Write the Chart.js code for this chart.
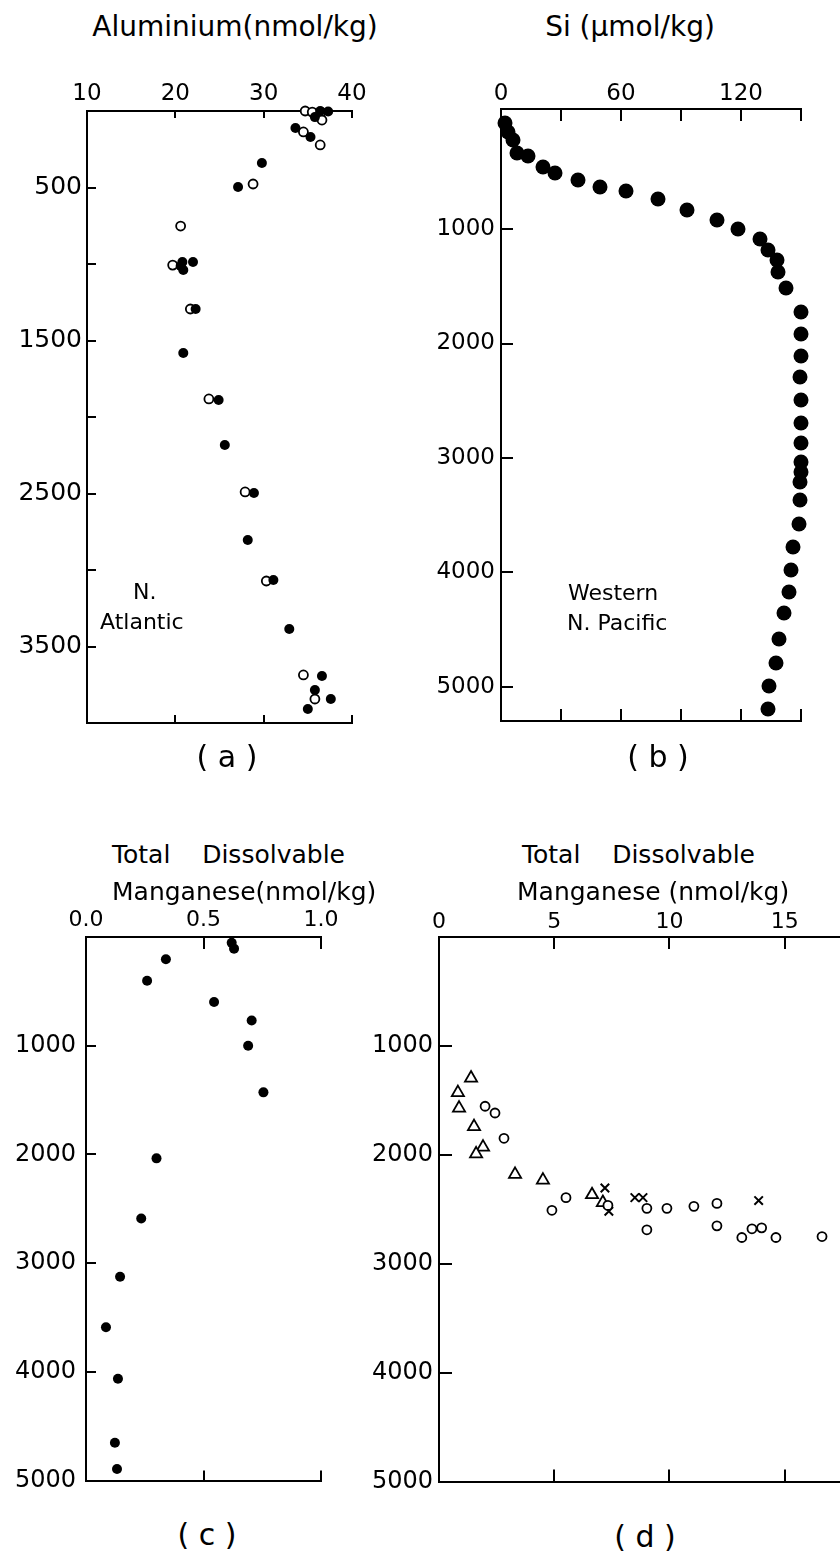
<!DOCTYPE html>
<html>
<head>
<meta charset="utf-8">
<title>Al, Si and Mn depth profiles</title>
<script src="https://cdn.jsdelivr.net/npm/chart.js@4.4.0/dist/chart.umd.min.js"></script>
<style>
  body { margin: 0; background: #fff; }
  #page { position: relative; width: 840px; height: 1552px; overflow: hidden; background: #fff;
          font-family: "DejaVu Sans", sans-serif; color: #000; }
  #page canvas { position: absolute; }
  .lbl { position: absolute; white-space: pre; line-height: 1; }
</style>
</head>
<body>
<div id="page">
  <canvas id="chartA"></canvas>
  <canvas id="chartB"></canvas>
  <canvas id="chartC"></canvas>
  <canvas id="chartD"></canvas>
</div>
<script>
// (a) Aluminium, N. Atlantic  [nmol/kg, depth m]
const alTicks = [10, 20, 30, 40];
const alBottomTicks = [20, 30, 40];
const alDepthTicks = [500, 1000, 1500, 2000, 2500, 3000, 3500];
const alDepthLabels = [500, 1500, 2500, 3500];
const alFilled = [[36.4, 0], [37.3, 3], [35.8, 40], [33.6, 111], [35.3, 170], [29.8, 340], [27.1, 497],
  [20.8, 987], [22.0, 987], [20.6, 1013], [20.9, 1039], [22.3, 1294], [20.9, 1582], [24.9, 1889],
  [25.6, 2183], [28.9, 2497], [28.2, 2804], [31.1, 3065], [32.9, 3386], [36.6, 3693], [35.8, 3784],
  [37.6, 3843], [35.0, 3908]];
const alOpen = [[34.7, 0], [35.5, 7], [36.5, 7], [36.6, 59], [34.5, 137], [36.4, 222], [28.8, 477],
  [20.6, 752], [19.7, 1007], [21.7, 1294], [23.8, 1882], [27.9, 2490], [30.3, 3072], [34.5, 3686],
  [35.8, 3843]];

// (b) Si, Western N. Pacific  [umol/kg, depth m]
const siTicks = [0, 30, 60, 90, 120, 150];
const siLabels = [0, 60, 120];
const siBottomTicks = [30, 60, 90, 120, 150];
const siDepthTicks = [1000, 2000, 3000, 4000, 5000];
const siPoints = [[2, 72], [3.5, 151], [6, 221], [8, 335], [13.5, 361], [21, 457], [27, 509], [38.5, 571],
  [49.5, 632], [62.5, 667], [78.5, 737], [93, 833], [108, 920], [118.5, 999], [129.5, 1086],
  [133.5, 1183], [138, 1270], [138.5, 1375], [142.5, 1515], [150, 1725], [150, 1917], [150, 2109],
  [149.5, 2293], [150, 2494], [150, 2695], [150, 2870], [150, 3036], [150, 3123], [149.5, 3211],
  [149.5, 3368], [149, 3578], [146, 3779], [145, 3980], [144, 4172], [141.5, 4356], [139, 4583],
  [137.5, 4793], [134, 4994], [133.5, 5195]];

// (c) Total dissolvable Mn  [nmol/kg, depth m]
const mnTicks = [0, 0.5, 1.0];
const mnBottomTicks = [0.5, 1.0];
const mnDepthTicks = [1000, 2000, 3000, 4000, 5000];
const mnPoints = [[0.62, 54], [0.63, 107], [0.34, 205], [0.26, 402], [0.545, 598], [0.705, 768],
  [0.69, 1000], [0.755, 1429], [0.30, 2036], [0.235, 2589], [0.145, 3125], [0.085, 3589],
  [0.136, 4063], [0.123, 4652], [0.132, 4893]];

// (d) Total dissolvable Mn, three sets
const mn2Ticks = [0, 5, 10, 15];
const mn2BottomTicks = [5, 10, 15];
const mn2Triangles = [[1.39, 1295], [0.82, 1429], [0.87, 1571], [1.52, 1741], [1.91, 1929], [1.61, 1991],
  [3.30, 2179], [4.51, 2232], [6.64, 2366], [7.11, 2438]];
const mn2Circles = [[2.0, 1554], [2.43, 1616], [2.82, 1848], [4.90, 2509], [5.51, 2393], [7.33, 2464],
  [9.02, 2491], [9.02, 2688], [9.89, 2491], [11.06, 2473], [12.06, 2446], [12.06, 2652], [13.14, 2759],
  [13.58, 2679], [14.0, 2670], [14.62, 2759], [16.62, 2750]];
const mn2Crosses = [[7.2, 2304], [7.37, 2518], [8.5, 2393], [8.85, 2393], [13.87, 2420]];

(function () {
  const FONT = 'DejaVu Sans';
  Chart.defaults.font.family = FONT;
  Chart.defaults.color = '#000';

  const pts = arr => arr.map(p => ({ x: p[0], y: p[1] }));

  function filled(arr, r) {
    return { data: pts(arr), pointRadius: r, pointBackgroundColor: '#000', pointBorderColor: '#000',
      pointBorderWidth: 0, clip: false };
  }
  function hollow(arr, r, style, lw) {
    return { data: pts(arr), pointStyle: style || 'circle', pointRadius: r, pointBackgroundColor: '#fff',
      pointBorderColor: '#000', pointBorderWidth: lw || 1.8, clip: false };
  }

  function axis(o) {
    return {
      type: 'linear', position: o.pos, min: o.min, max: o.max, reverse: !!o.reverse,
      afterBuildTicks: s => { s.ticks = o.ticks.map(v => ({ value: v })); },
      afterFit: s => { if (o.pos === 'left') s.width = o.size; else s.height = o.size; },
      ticks: {
        display: !!o.labels, autoSkip: false, maxRotation: 0, padding: o.pad || 0,
        font: { family: FONT, size: o.fs || 22 },
        callback: v => (o.labels && o.labels.includes(v)) ? (o.fmt ? o.fmt(v) : String(v)) : ''
      },
      grid: { drawOnChartArea: false, drawTicks: true, tickLength: -o.tl, color: '#000', lineWidth: 2 },
      border: { display: true, color: '#000', width: 2 }
    };
  }

  function panel(id, box, area, scales, datasets) {
    const c = document.getElementById(id);
    c.width = box.w; c.height = box.h;
    c.style.left = box.x + 'px'; c.style.top = box.y + 'px';
    c.style.width = box.w + 'px'; c.style.height = box.h + 'px';
    scales.y.size = area.l - box.x;
    scales.x.size = area.t - box.y;
    scales.xb.size = box.y + box.h - area.b;
    new Chart(c, {
      type: 'scatter',
      data: { datasets: datasets },
      options: {
        responsive: false, animation: false, events: [],
        layout: { autoPadding: false, padding: { left: 0, top: 0, bottom: 0, right: box.x + box.w - area.r } },
        plugins: { legend: { display: false }, tooltip: { enabled: false } },
        scales: { x: axis(scales.x), xb: axis(scales.xb), y: axis(scales.y) }
      }
    });
  }

  panel('chartA', { x: 0, y: 60, w: 420, h: 700 }, { l: 87, t: 111, r: 352, b: 723 }, {
    x: { pos: 'top', min: 10, max: 40, ticks: alTicks, labels: alTicks, tl: 7, pad: 10, fs: 23 },
    xb: { pos: 'bottom', min: 10, max: 40, ticks: alBottomTicks, tl: 8 },
    y: { pos: 'left', min: 0, max: 4000, reverse: true, ticks: alDepthTicks, labels: alDepthLabels, tl: 9, pad: 14, fs: 25 }
  }, [filled(alFilled, 5), hollow(alOpen, 4.5)]);

  panel('chartB', { x: 420, y: 60, w: 420, h: 700 }, { l: 501, t: 109, r: 801, b: 721 }, {
    x: { pos: 'top', min: 0, max: 150, ticks: siTicks, labels: siLabels, tl: 12, pad: 13, fs: 23 },
    xb: { pos: 'bottom', min: 0, max: 150, ticks: siBottomTicks, tl: 12 },
    y: { pos: 'left', min: -50, max: 5300, reverse: true, ticks: siDepthTicks, labels: siDepthTicks, tl: 12, pad: 18, fs: 23 }
  }, [filled(siPoints, 7.5)]);

  panel('chartC', { x: 0, y: 895, w: 420, h: 620 }, { l: 86, t: 937, r: 321, b: 1497 }, {
    x: { pos: 'top', min: 0, max: 1.0, ticks: mnTicks, labels: mnTicks, tl: 12, pad: 16, fmt: v => v.toFixed(1) },
    xb: { pos: 'bottom', min: 0, max: 1.0, ticks: mnBottomTicks, tl: 10 },
    y: { pos: 'left', min: 0, max: 5000, reverse: true, ticks: mnDepthTicks, labels: mnDepthTicks, tl: 10, pad: 20, fs: 24 }
  }, [filled(mnPoints, 5)]);

  panel('chartD', { x: 360, y: 895, w: 480, h: 620 }, { l: 439, t: 937, r: 840, b: 1497 }, {
    x: { pos: 'top', min: 0, max: 17.4, ticks: mn2Ticks, labels: mn2Ticks, tl: 12, pad: 14 },
    xb: { pos: 'bottom', min: 0, max: 17.4, ticks: mn2BottomTicks, tl: 12 },
    y: { pos: 'left', min: 0, max: 5000, reverse: true, ticks: mnDepthTicks, labels: mnDepthTicks, tl: 13, pad: 19, fs: 24 }
  }, [
    hollow(mn2Circles, 4.5),
    hollow(mn2Triangles, 7, 'triangle', 1.8),
    { data: pts(mn2Crosses), pointStyle: 'crossRot', pointRadius: 6, pointBorderColor: '#000', pointBorderWidth: 2, clip: false }
  ]);

  // titles and annotations, placed by baseline
  const page = document.getElementById('page');
  function text(str, x, base, size, align) {
    const d = document.createElement('div');
    d.className = 'lbl';
    d.textContent = str;
    d.style.fontSize = size + 'px';
    d.style.left = x + 'px';
    d.style.top = (base - 0.846 * size) + 'px';
    if (align === 'center') d.style.transform = 'translateX(-50%)';
    page.appendChild(d);
  }
  text('Aluminium(nmol/kg)', 235, 37, 28, 'center');
  text('Si (\u03bcmol/kg)', 630, 37, 28, 'center');
  text('N.', 133, 600, 22);
  text('Atlantic', 100, 630, 22);
  text('Western', 568, 601, 22);
  text('N. Pacific', 567, 631, 22);
  text('( a )', 227, 767, 30, 'center');
  text('( b )', 658, 767, 30, 'center');
  text('Total    Dissolvable', 112, 863, 25);
  text('Manganese(nmol/kg)', 112, 900, 25);
  text('Total    Dissolvable', 522, 863, 25);
  text('Manganese (nmol/kg)', 517, 900, 25);
  text('( c )', 207, 1545, 30, 'center');
  text('( d )', 645, 1547, 30, 'center');
})();
</script>
</body>
</html>
